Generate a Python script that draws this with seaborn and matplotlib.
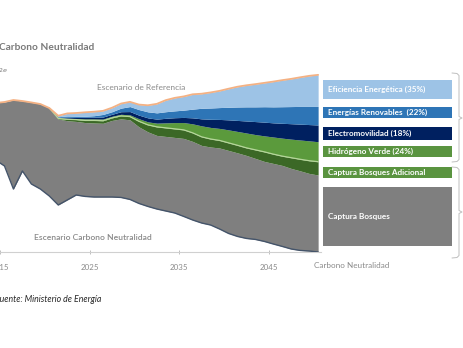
import matplotlib
matplotlib.use("Agg")
import matplotlib.pyplot as plt
from matplotlib.patches import Rectangle
from matplotlib.lines import Line2D
import pandas as pd
import seaborn as sns

# ---- data (MtCO2e) ----
years = list(range(2014, 2051))

neta_cn = [64.4, 60.2, 44.1, 56.7, 47.6, 44.1, 39.2, 32.9, 36.4, 39.9,
           38.9, 38.5, 38.5, 38.5, 38.2, 36.8, 34.0, 31.9, 30.1, 28.7,
           27.3, 24.9, 22.4, 20.3, 18.9, 16.1, 13.0, 10.9, 9.5, 8.8,
           7.4, 5.6, 3.9, 2.1, 1.1, 0.7, 0.0]
captura_bosques = [39.9, 44.8, 62.3, 49.0, 57.1, 59.5, 61.6, 60.2, 55.5, 51.5,
                   51.7, 51.8, 51.6, 53.6, 55.0, 55.7, 53.6, 52.2, 51.5, 52.2,
                   52.9, 54.6, 55.0, 54.3, 54.6, 56.7, 58.1, 58.5, 58.1, 56.7,
                   56.0, 56.4, 56.7, 56.4, 55.7, 54.3, 53.9]
captura_adicional = [0, 0, 0, 0, 0, 0, 0, 0.4, 1.0, 1.3,
                     1.5, 1.8, 1.8, 1.8, 2.1, 2.3, 3.9, 4.9, 6.0, 6.0,
                     6.0, 6.0, 6.0, 6.0, 5.6, 5.3, 5.3, 5.3, 5.3, 6.0,
                     6.7, 6.5, 6.5, 7.5, 8.1, 8.9, 9.3]
hidrogeno = [0, 0, 0, 0, 0, 0, 0, 0.4, 0.7, 0.7,
             1.1, 1.1, 1.2, 1.1, 1.1, 1.2, 1.8, 2.1, 2.6, 3.5,
             4.4, 5.1, 6.3, 7.7, 8.1, 8.4, 9.1, 9.7, 10.4, 10.7,
             11.2, 12.0, 12.6, 13.0, 13.5, 13.9, 14.0]
electromovilidad = [0, 0, 0, 0, 0, 0, 0, 0.4, 0.7, 0.8,
                    1.1, 1.1, 1.4, 1.4, 1.8, 2.3, 2.5, 2.8, 2.8, 3.2,
                    3.4, 3.6, 4.2, 4.9, 5.7, 6.3, 7.0, 7.7, 8.4, 9.1,
                    9.6, 9.9, 10.4, 10.8, 11.1, 11.4, 11.7]
renovables = [0, 0, 0, 0, 0, 0, 0, 0.4, 0.9, 0.9,
              0.7, 1.1, 1.8, 1.8, 2.5, 3.5, 3.9, 4.2, 4.4, 4.6,
              4.8, 5.1, 6.1, 7.4, 7.9, 8.3, 8.8, 9.4, 9.9, 10.3,
              10.8, 11.2, 11.6, 12.0, 12.4, 12.7, 13.0]
eficiencia = [0, 0, 0, 0, 0, 0, 0, 0.7, 1.8, 2.2,
              2.8, 2.8, 2.5, 2.8, 3.2, 3.3, 3.5, 4.6, 6.3, 8.1,
              9.1, 9.6, 10.4, 10.2, 10.9, 11.7, 13.0, 14.2, 15.1, 15.9,
              16.7, 17.7, 18.6, 19.4, 20.4, 21.4, 22.1]

tick_years = ["2015", "2025", "2035", "2045"]

legend_labels = ["Eficiencia Energética (35%)", "Energías Renovables  (22%)",
                 "Electromovilidad (18%)", "Hidrógeno Verde (24%)",
                 "Captura Bosques Adicional", "Captura Bosques"]

# ---- styling ----
sns.set_theme(style="white")
plt.rcParams["font.family"] = ["Lato", "DejaVu Sans"]

C_EFI = "#9dc3e6"
C_REN = "#2e75b6"
C_ELE = "#002060"
C_HID = "#5b9a3c"
C_ADI = "#3b6826"
C_BOS = "#7f7f7f"
C_REF = "#f4b183"
C_CN = "#44546a"
C_TXT = "#8a8a8a"

df = pd.DataFrame({
    "year": years,
    "neta": neta_cn,
    "bosques": captura_bosques,
    "adicional": captura_adicional,
    "hidrogeno": hidrogeno,
    "electro": electromovilidad,
    "renovables": renovables,
    "eficiencia": eficiencia,
})
layers = ["neta", "bosques", "adicional", "hidrogeno", "electro", "renovables", "eficiencia"]
cum = df[layers].cumsum(axis=1)
df["referencia"] = cum["eficiencia"]

W, H = 463, 348
fig = plt.figure(figsize=(W / 100, H / 100), dpi=100)


def fx(px):
    return px / W


def fy(py):
    return 1 - py / H


# axes frame: x axis line at y=252px, plot right edge at 321px
ax = fig.add_axes([0, fy(252), fx(321), fy(40) - fy(252)])
ax.set_xlim(2015.05, 2050.32)
ax.set_ylim(0, 148.4)

x = df["year"]
ax.fill_between(x, cum["neta"], cum["bosques"], color=C_BOS, lw=0, zorder=2)
ax.fill_between(x, cum["bosques"], cum["adicional"], color=C_ADI, lw=0, zorder=2)
ax.fill_between(x, cum["adicional"], cum["hidrogeno"], color=C_HID, lw=0, zorder=2)
ax.fill_between(x, cum["hidrogeno"], cum["electro"], color=C_ELE, lw=0, zorder=2)
ax.fill_between(x, cum["electro"], cum["renovables"], color=C_REN, lw=0, zorder=2)
ax.fill_between(x, cum["renovables"], cum["eficiencia"], color=C_EFI, lw=0, zorder=2)

sel = df["year"] >= 2020
ax.plot(x[sel], cum["adicional"][sel], color="#b5d69a", lw=0.9, zorder=3)
sns.lineplot(data=df, x="year", y="referencia", color=C_REF, lw=1.3, ax=ax, zorder=4)
sns.lineplot(data=df, x="year", y="neta", color=C_CN, lw=1.0, ax=ax, zorder=4)

ax.set_xlabel("")
ax.set_ylabel("")
ax.set_yticks([])
ax.set_xticks([2014.5, 2024.5, 2034.5, 2044.5])
ax.set_xticklabels(tick_years)
ax.tick_params(axis="x", direction="inout", length=3, width=0.7, color="#bfbfbf",
               labelsize=5.7, labelcolor=C_TXT, pad=7.5, bottom=True)
for s in ["top", "left", "right"]:
    ax.spines[s].set_visible(False)
ax.spines["bottom"].set_color("#d0d0d0")
ax.spines["bottom"].set_linewidth(0.8)
ax.set_facecolor("none")

# chart annotations
fig.text(fx(97), fy(87), "Escenario de Referencia", fontsize=6.0, color=C_TXT,
         ha="left", va="center")
fig.text(fx(34), fy(238), "Escenario Carbono Neutralidad", fontsize=6.1, color=C_TXT,
         ha="left", va="center", fontweight="semibold")
fig.text(fx(314), fy(265), "Carbono Neutralidad", fontsize=5.9, color=C_TXT,
         ha="left", va="center")

# heading and units
fig.text(fx(-1), fy(48), "Carbono Neutralidad", fontsize=7.3, color="#7a7a7a",
         ha="left", va="center", fontweight="bold")
fig.text(fx(9), fy(69), r"MtCO$_{2e}$", fontsize=6.5, color="#7a7a7a",
         ha="right", va="center")
fig.text(fx(-5), fy(299), "Fuente: Ministerio de Energía", fontsize=6.3,
         color="#262626", ha="left", va="center", style="italic")

# legend boxes
boxes = [(80, 99.3, C_EFI), (107.3, 118, C_REN), (127.3, 140, C_ELE),
         (146, 157.3, "#5a9440"), (166.7, 178.3, "#5a9440"), (186.7, 246, C_BOS)]
for (top, bot, col), lab in zip(boxes, legend_labels):
    fig.add_artist(Rectangle((fx(323), fy(bot)), fx(451.5) - fx(323), fy(top) - fy(bot),
                             transform=fig.transFigure, facecolor=col, edgecolor="none"))
    fig.text(fx(328.5), fy((top + bot) / 2), lab, fontsize=5.9, color="white",
             fontweight="bold", ha="left", va="center")

# braces grouping the legend
def brace(top, bot, mid):
    xs = [452, 457, 459, 459, 462, 459, 459, 457, 452]
    ys = [top, top + 0.5, top + 2.5, mid - 1.5, mid, mid + 1.5, bot - 2.5, bot - 0.5, bot]
    fig.add_artist(Line2D([fx(v) for v in xs], [fy(v) for v in ys],
                          transform=fig.transFigure, color="#bfbfbf", lw=0.7))


brace(73, 162, 118)
brace(167, 258, 212)

fig.savefig("out.png", dpi=100, facecolor="white")
